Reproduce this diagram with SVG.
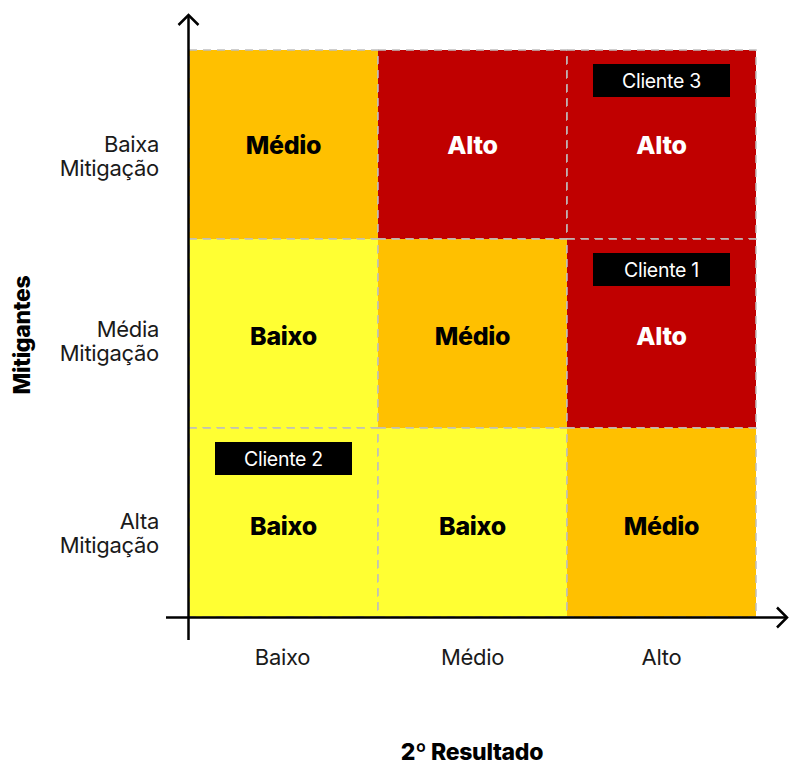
<svg xmlns="http://www.w3.org/2000/svg" width="789" height="765" viewBox="0 0 789 765">
  <style>
    .cell { stroke: #BFBFBF; stroke-width: 1.5; stroke-dasharray: 8 6; }
    .hi { fill: #C00000; }
    .mid { fill: #FFC000; }
    .lo { fill: #FFFF33; }
    .lvl { font-family: Inter, "Liberation Sans", sans-serif; font-weight: 800; font-size: 25px; letter-spacing: -0.3px; text-anchor: middle; }
    .dark { fill: #000000; }
    .light { fill: #FFFFFF; }
    .axis { stroke: #000000; stroke-width: 2.5; fill: none; }
    .tick { font-family: Inter, "Liberation Sans", sans-serif; font-size: 22px; letter-spacing: -0.3px; fill: #1a1a1a; }
    .title { font-family: Inter, "Liberation Sans", sans-serif; font-weight: 800; font-size: 23px; letter-spacing: -0.3px; fill: #000000; text-anchor: middle; }
    .tagbox { fill: #000000; }
    .tagtext { font-family: Inter, "Liberation Sans", sans-serif; font-size: 19.5px; letter-spacing: -0.3px; fill: #FFFFFF; text-anchor: middle; }
  </style>

  <!-- risk matrix cells -->
  <g id="cell-r1c1"><rect class="cell mid" x="189" y="50" width="189" height="189"/><text class="lvl dark" x="283.5" y="154">Médio</text></g>
  <g id="cell-r1c2"><rect class="cell hi" x="378" y="50" width="189" height="189"/><text class="lvl light" x="472.5" y="154">Alto</text></g>
  <g id="cell-r1c3"><rect class="cell hi" x="567" y="50" width="189" height="189"/><text class="lvl light" x="661.5" y="154">Alto</text></g>
  <g id="cell-r2c1"><rect class="cell lo" x="189" y="239" width="189" height="189"/><text class="lvl dark" x="283.5" y="345">Baixo</text></g>
  <g id="cell-r2c2"><rect class="cell mid" x="378" y="239" width="189" height="189"/><text class="lvl dark" x="472.5" y="345">Médio</text></g>
  <g id="cell-r2c3"><rect class="cell hi" x="567" y="239" width="189" height="189"/><text class="lvl light" x="661.5" y="345">Alto</text></g>
  <g id="cell-r3c1"><rect class="cell lo" x="189" y="428" width="189" height="189"/><text class="lvl dark" x="283.5" y="535">Baixo</text></g>
  <g id="cell-r3c2"><rect class="cell lo" x="378" y="428" width="189" height="189"/><text class="lvl dark" x="472.5" y="535">Baixo</text></g>
  <g id="cell-r3c3"><rect class="cell mid" x="567" y="428" width="189" height="189"/><text class="lvl dark" x="661.5" y="535">Médio</text></g>

  <!-- client tags -->
  <g id="cliente-3"><rect class="tagbox" x="593" y="64" width="137" height="33"/><text class="tagtext" x="661.5" y="88">Cliente 3</text></g>
  <g id="cliente-1"><rect class="tagbox" x="593" y="253" width="137" height="33"/><text class="tagtext" x="661.5" y="277">Cliente 1</text></g>
  <g id="cliente-2"><rect class="tagbox" x="215" y="442" width="137" height="33"/><text class="tagtext" x="283.5" y="466">Cliente 2</text></g>

  <!-- axes -->
  <g id="axes">
    <line class="axis" x1="188.5" y1="15" x2="188.5" y2="640"/>
    <polyline class="axis" points="178.5,25 188.5,15 198.5,25"/>
    <line class="axis" x1="166" y1="617.5" x2="787" y2="617.5"/>
    <polyline class="axis" points="777,607.5 787,617.5 777,627.5"/>
  </g>

  <!-- row labels -->
  <g id="row-labels" class="tick" text-anchor="end">
    <text x="159" y="152">Baixa</text>
    <text x="159" y="176">Mitigação</text>
    <text x="159" y="337">Média</text>
    <text x="159" y="361">Mitigação</text>
    <text x="159" y="529">Alta</text>
    <text x="159" y="553">Mitigação</text>
  </g>

  <!-- column labels -->
  <g id="col-labels" class="tick" text-anchor="middle">
    <text x="282.5" y="665">Baixo</text>
    <text x="472.5" y="665">Médio</text>
    <text x="661.5" y="665">Alto</text>
  </g>

  <!-- axis titles -->
  <text id="x-title" class="title" x="472" y="760">2º Resultado</text>
  <text id="y-title" class="title" transform="translate(30,335) rotate(-90)">Mitigantes</text>
</svg>
